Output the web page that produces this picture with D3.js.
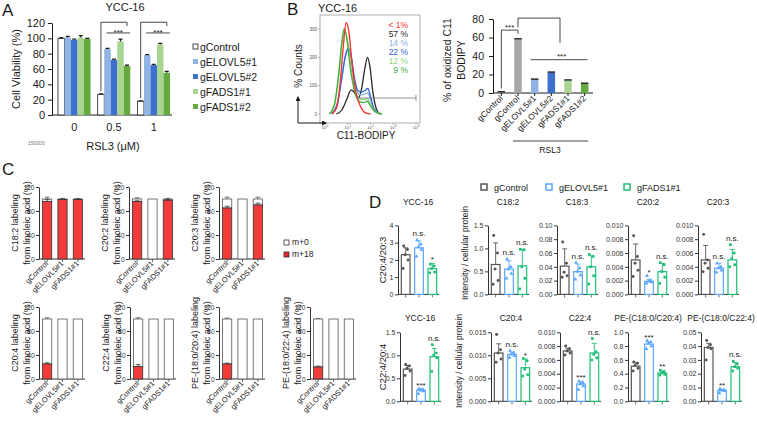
<!DOCTYPE html>
<html>
<head>
<meta charset="utf-8">
<script src="https://cdnjs.cloudflare.com/ajax/libs/d3/7.8.5/d3.min.js"></script>
<style>
  body { margin: 0; background: #fff; }
  svg { display: block; }
</style>
</head>
<body>
<div id="chart"></div>
<script>
// ---------- Panel A data ----------
const aDoses = ["0", "0.5", "1"];
const aGroups = ["gControl", "gELOVL5#1", "gELOVL5#2", "gFADS1#1", "gFADS1#2"];
const aColors = ["#ffffff", "#8fb4e3", "#3c6fce", "#a9d592", "#65a940"];
const aViability = [
  [100, 101, 98, 101, 99],
  [27, 86, 72, 96, 64],
  [18, 78, 65, 92, 55]
];
const aErr = [
  [1, 1.5, 1, 2.5, 1],
  [0.5, 0.8, 1, 3, 1],
  [0.5, 0.8, 1, 1.5, 2]
];
const aTicks = [0, 20, 40, 60, 80, 100, 120];

// ---------- Panel B data ----------
// histogram traces: [log10 fluorescence, % counts]
const histControl = [[0.3, 0], [0.5, 20], [0.65, 95], [0.8, 235], [0.93, 322], [1.05, 290], [1.2, 170], [1.35, 80], [1.5, 38], [1.65, 14], [1.8, 3], [2.0, 0]];
const histControlRSL3 = [[0.5, 0], [0.75, 15], [0.95, 50], [1.15, 85], [1.3, 75], [1.45, 55], [1.6, 85], [1.75, 160], [1.87, 200], [1.97, 170], [2.1, 80], [2.25, 20], [2.4, 0]];
const histELOVL5a = [[0.3, 0], [0.55, 35], [0.75, 130], [0.9, 210], [1.0, 225], [1.15, 190], [1.3, 115], [1.45, 72], [1.6, 68], [1.75, 70], [1.88, 74], [2.0, 50], [2.15, 15], [2.4, 0]];
const histELOVL5b = [[0.3, 0], [0.55, 40], [0.75, 135], [0.9, 205], [1.02, 232], [1.15, 205], [1.3, 125], [1.45, 82], [1.6, 78], [1.75, 82], [1.88, 90], [2.0, 62], [2.15, 20], [2.4, 0]];
const histFADS1a = [[0.2, 0], [0.4, 25], [0.6, 130], [0.75, 250], [0.87, 292], [1.0, 255], [1.15, 160], [1.3, 90], [1.5, 55], [1.7, 50], [1.85, 55], [2.0, 35], [2.2, 10], [2.5, 0]];
const histFADS1b = [[0.2, 0], [0.4, 30], [0.6, 140], [0.75, 262], [0.85, 302], [0.95, 272], [1.1, 170], [1.3, 80], [1.5, 45], [1.7, 40], [1.85, 45], [2.0, 28], [2.2, 8], [2.5, 0]];
const bPercents = ["< 1%", "57 %", "14 %", "22 %", "12 %", "9 %"];
const bHistColors = ["#ff2b2b", "#2a2a2a", "#8fb4e3", "#2f63d6", "#8fd67a", "#3fae3f"];
const bBarLabels = ["gControl", "gControl", "gELOVL5#1", "gELOVL5#2", "gFADS1#1", "gFADS1#2"];
const bBarValues = [1, 58, 14.5, 22, 13.5, 10];
const bBarErr = [0.3, 0.6, 0.5, 0.6, 0.6, 0.6];
const bBarColors = ["#a6a6a6", "#a6a6a6", "#8fb4e3", "#3c6fce", "#a9d592", "#65a940"];
const bTicks = [0, 20, 40, 60, 80];

// ---------- Panel C data ----------
const cGroups = ["gControl", "gELOVL5#1", "gFADS1#1"];
const cTitles = ["C18:2", "C20:2", "C20:3", "C20:4", "C22:4", "PE-(18:0/20:4)", "PE-(18:0/22:4)"];
const cM18 = [[96, 99, 99], [96, 0, 98], [85, 0, 90], [25, 0, 0], [21, 0, 0], [25, 0, 0], [20, 0, 0]];
const cM18Err = [[3, 1, 1], [1, 0, 1], [3, 0, 3], [2, 0, 0], [3, 0, 0], [1.5, 0, 0], [1.5, 0, 0]];
const cTotalErr = [[3, 1, 1], [2, 0, 1], [3, 0, 3], [2, 0, 0], [2, 0, 0], [1.5, 0, 0], [1, 0, 0]];
const cTicks = [0, 40, 80, 120];

// ---------- Panel D data ----------
const dGroups = ["gControl", "gELOVL5#1", "gFADS1#1"];
const dColors = ["#555555", "#5aa7ff", "#1fbf77"];
const dTitles = ["YCC-16", "C18:2", "C18:3", "C20:2", "C20:3", "YCC-16", "C20:4", "C22:4", "PE-(C18:0/C20:4)", "PE-(C18:0/C22:4)"];
const dMax = [4, 1.5, 0.10, 0.010, 0.010, 1.5, 0.015, 0.010, 1.0, 0.05];
const dStep = [1, 0.5, 0.02, 0.002, 0.002, 0.5, 0.005, 0.002, 0.2, 0.01];
const dFormat = ["d", ".1f", ".2f", ".3f", ".3f", ".1f", ".3f", ".3f", ".1f", ".2f"];
const dMeans = [
  [2.3, 2.7, 1.5], [0.65, 0.55, 0.62], [0.041, 0.033, 0.040], [0.0050, 0.0019, 0.0033], [0.0050, 0.0038, 0.0050],
  [0.70, 0.24, 0.97], [0.0105, 0.0102, 0.0073], [0.0073, 0.0025, 0.0070], [0.51, 0.83, 0.41], [0.039, 0.008, 0.025]
];
const dSD = [
  [0.4, 0.4, 0.3], [0.47, 0.18, 0.36], [0.025, 0.011, 0.016], [0.0023, 0.0003, 0.0012], [0.0021, 0.0007, 0.0015],
  [0.08, 0.03, 0.18], [0.002, 0.0005, 0.0019], [0.0004, 0.0004, 0.0014], [0.05, 0.03, 0.03], [0.003, 0.0006, 0.003]
];
const dPoints = [
  [[2.8, 2.6, 2.3, 2.0, 1.5], [3.15, 2.9, 2.75, 2.6, 2.2], [1.75, 1.65, 1.5, 1.3, 1.25]],
  [[1.28, 0.9, 0.55, 0.3, 0.22], [0.77, 0.6, 0.55, 0.45, 0.35], [0.98, 0.97, 0.6, 0.35, 0.12]],
  [[0.076, 0.045, 0.032, 0.027, 0.025], [0.046, 0.038, 0.033, 0.028, 0.022], [0.058, 0.055, 0.04, 0.027, 0.015]],
  [[0.0085, 0.0055, 0.0045, 0.0035, 0.0026], [0.0027, 0.002, 0.0019, 0.0018, 0.0016], [0.0046, 0.0043, 0.0033, 0.0025, 0.0016]],
  [[0.0087, 0.005, 0.0045, 0.0038, 0.0033], [0.0045, 0.004, 0.0038, 0.0035, 0.0032], [0.0072, 0.006, 0.0052, 0.0043, 0.004]],
  [[0.8, 0.77, 0.72, 0.66, 0.56], [0.27, 0.26, 0.24, 0.22, 0.16], [1.23, 1.05, 1.0, 0.95, 0.65]],
  [[0.0145, 0.0112, 0.0105, 0.0092, 0.0085], [0.011, 0.0106, 0.0102, 0.0099, 0.0095], [0.0093, 0.0088, 0.007, 0.0058, 0.0055]],
  [[0.008, 0.0076, 0.0073, 0.007, 0.0067], [0.0029, 0.0027, 0.0025, 0.0022, 0.0017], [0.0091, 0.0072, 0.0068, 0.0063, 0.006]],
  [[0.57, 0.55, 0.52, 0.48, 0.44], [0.88, 0.86, 0.84, 0.8, 0.76], [0.45, 0.43, 0.41, 0.39, 0.38]],
  [[0.044, 0.041, 0.039, 0.038, 0.03], [0.009, 0.0085, 0.008, 0.0075, 0.006], [0.029, 0.027, 0.025, 0.024, 0.022]]
];
const dMarks = [
  ["", "n.s.", "*"], ["", "n.s.", "n.s."], ["", "n.s.", "n.s."], ["", "*", "n.s."], ["", "n.s.", "n.s."],
  ["", "***", "n.s."], ["", "n.s.", "*"], ["", "***", "n.s."], ["", "***", "**"], ["", "**", "n.s."]
];

// ---------- drawing ----------
const FONT = '"Liberation Sans", Arial, sans-serif';
const INK = "#1a1a1a";
const svg = d3.select("#chart").append("svg")
  .attr("width", 757).attr("height", 433)
  .style("font-family", FONT);

function label(g, x, y, s, size, opts = {}) {
  const t = g.append("text")
    .attr("x", x).attr("y", y)
    .attr("font-size", size)
    .attr("text-anchor", opts.anchor || "start")
    .attr("fill", opts.fill || INK)
    .text(s);
  if (opts.rotate) t.attr("transform", `rotate(${opts.rotate},${x},${y})`);
  if (opts.dy) t.attr("dy", opts.dy);
  return t;
}

function styleAxis(g, size, color) {
  g.attr("font-family", null);
  g.selectAll("text").attr("font-size", size).attr("fill", color || INK);
  g.selectAll("line,path").attr("stroke", color || INK);
}

// panel letters
label(svg, 2, 16, "A", 17);
label(svg, 287, 15, "B", 17);
label(svg, 2, 175, "C", 17);
label(svg, 369, 208, "D", 17);

// ===== Panel A =====
const gA = svg.append("g");
const yA = d3.scaleLinear().domain([0, 120]).range([115, 23]);
const xA = d3.scaleBand().domain(aDoses).range([54, 174]).paddingInner(0.18).paddingOuter(0.1);
const xAi = d3.scaleBand().domain(aGroups).range([0, xA.bandwidth()]);

gA.append("g").attr("transform", "translate(52,0)")
  .call(d3.axisLeft(yA).tickValues(aTicks).tickSize(4).tickSizeOuter(0).tickPadding(3))
  .call(g => styleAxis(g, 11));
gA.append("line").attr("x1", 52).attr("x2", 172).attr("y1", 115).attr("y2", 115).attr("stroke", INK);

const aRows = aDoses.flatMap((dose, i) => aGroups.map((grp, j) => ({ dose, grp, j, v: aViability[i][j], e: aErr[i][j] })));
gA.selectAll("rect.bar").data(aRows).join("rect").attr("class", "bar")
  .attr("x", d => xA(d.dose) + xAi(d.grp))
  .attr("y", d => yA(d.v))
  .attr("width", xAi.bandwidth())
  .attr("height", d => yA(0) - yA(d.v))
  .attr("fill", d => aColors[d.j])
  .attr("stroke", d => d.j === 0 ? INK : "none")
  .attr("stroke-width", 0.8);
gA.selectAll("path.err").data(aRows).join("path").attr("class", "err")
  .attr("d", d => {
    const cx = xA(d.dose) + xAi(d.grp) + xAi.bandwidth() / 2;
    return `M${cx},${yA(d.v)}V${yA(d.v + d.e)}M${cx - 2},${yA(d.v + d.e)}H${cx + 2}`;
  })
  .attr("stroke", INK).attr("stroke-width", 1.2).attr("fill", "none");

[1, 2].forEach(i => {
  const dose = aDoses[i];
  const cx = j => xA(dose) + xAi(aGroups[j]) + xAi.bandwidth() / 2;
  gA.append("path")
    .attr("d", `M${cx(0)},${yA(aViability[i][0] + 4)}V${yA(121)}H${cx(4)}V${yA(116)}`)
    .attr("stroke", INK).attr("fill", "none").attr("stroke-width", 0.8);
  gA.append("line").attr("x1", cx(1) - 1).attr("x2", cx(4) + 3)
    .attr("y1", yA(107)).attr("y2", yA(107)).attr("stroke", INK).attr("stroke-width", 0.8);
  label(gA, (cx(1) + cx(4)) / 2 + 1, yA(107) + 2, "***", 8, { anchor: "middle" });
});

aDoses.forEach(d => label(gA, xA(d) + xA.bandwidth() / 2, 131, d, 11, { anchor: "middle" }));
label(gA, 113, 150, "RSL3 (\u03bcM)", 11, { anchor: "middle" });
label(gA, 28, 145, "150000", 5, { fill: "#777" });
label(gA, 125, 11, "YCC-16", 11, { anchor: "middle" });
label(gA, 16, 69, "Cell Viability (%)", 11, { anchor: "middle", rotate: -90, dy: "0.35em" });

aGroups.forEach((grp, j) => {
  const y = 47 + j * 15;
  gA.append("rect").attr("x", 193).attr("y", y - 3).attr("width", 5).attr("height", 5)
    .attr("fill", aColors[j]).attr("stroke", j === 0 ? INK : "none").attr("stroke-width", 0.8);
  label(gA, 200, y + 4, grp, 10.5);
});

// ===== Panel B: histogram =====
const gB = svg.append("g");
label(gB, 318, 12, "YCC-16", 11);
const xH = d3.scaleLinear().domain([0, 4]).range([325, 416]);
const yH = d3.scaleLinear().domain([0, 300]).range([114, 29]);
gB.append("rect").attr("x", 320).attr("y", 15).attr("width", 100).attr("height", 108)
  .attr("fill", "none").attr("stroke", "#9a9a9a").attr("stroke-width", 0.8);
[0, 100, 200, 300].forEach(v => {
  gB.append("line").attr("x1", 318).attr("x2", 320).attr("y1", yH(v)).attr("y2", yH(v)).attr("stroke", "#777").attr("stroke-width", 0.5);
  label(gB, 317, yH(v) + 1.5, v, 4.5, { anchor: "end", fill: "#555" });
});
d3.range(0, 5).forEach(k => {
  gB.append("line").attr("x1", xH(k)).attr("x2", xH(k)).attr("y1", 123).attr("y2", 125).attr("stroke", "#777").attr("stroke-width", 0.5);
  const t = label(gB, xH(k), 128.5, "10", 4.2, { anchor: "middle", fill: "#555" });
  t.append("tspan").attr("dy", -1.8).attr("font-size", 3.2).text(k);
});
const histLine = d3.line().x(d => xH(d[0])).y(d => yH(d[1])).curve(d3.curveMonotoneX);
const histOrder = [
  [histControlRSL3, 1], [histELOVL5a, 2], [histELOVL5b, 3], [histFADS1a, 4], [histFADS1b, 5], [histControl, 0]
];
histOrder.forEach(([pts, c]) => {
  gB.append("path").attr("d", histLine(pts)).attr("fill", "none")
    .attr("stroke", bHistColors[c]).attr("stroke-width", 1.3);
});
gB.append("path").attr("d", `M${xH(1.45)},96V100M${xH(1.45)},98H${xH(4)}M${xH(4)},95V101`)
  .attr("stroke", "#777").attr("fill", "none").attr("stroke-width", 0.8);
bPercents.forEach((p, i) => label(gB, 408, 28 + i * 9, p, 8.5, { anchor: "end", fill: bHistColors[i] }));

svg.append("defs").append("marker").attr("id", "arr")
  .attr("viewBox", "0 0 10 10").attr("refX", 8).attr("refY", 5)
  .attr("markerWidth", 5).attr("markerHeight", 5).attr("orient", "auto")
  .append("path").attr("d", "M0,0L10,5L0,10z").attr("fill", INK);
gB.append("path").attr("d", "M298,123V97").attr("stroke", INK).attr("stroke-width", 1).attr("marker-end", "url(#arr)");
gB.append("path").attr("d", "M298,123H326").attr("stroke", INK).attr("stroke-width", 1).attr("marker-end", "url(#arr)");
label(gB, 298, 66, "% Counts", 10, { anchor: "middle", rotate: -90, dy: "0.35em" });
label(gB, 366, 139, "C11-BODIPY", 10, { anchor: "middle" });

// ===== Panel B: bar chart =====
const yBb = d3.scaleLinear().domain([0, 80]).range([93, 19]);
const xBb = d3.scaleBand().domain(d3.range(6)).range([493, 593]).paddingInner(0.55).paddingOuter(0.275);
gB.append("g").attr("transform", "translate(493,0)")
  .call(d3.axisLeft(yBb).tickValues(bTicks).tickSize(4).tickSizeOuter(0).tickPadding(5))
  .call(g => styleAxis(g, 10.5));
gB.append("line").attr("x1", 493).attr("x2", 593).attr("y1", 93).attr("y2", 93).attr("stroke", INK);
const bRows = bBarValues.map((v, i) => ({ i, v, e: bBarErr[i] }));
gB.selectAll("rect.bbar").data(bRows).join("rect").attr("class", "bbar")
  .attr("x", d => xBb(d.i)).attr("width", xBb.bandwidth())
  .attr("y", d => yBb(d.v)).attr("height", d => yBb(0) - yBb(d.v))
  .attr("fill", d => bBarColors[d.i]);
gB.selectAll("path.berr").data(bRows).join("path").attr("class", "berr")
  .attr("d", d => `M${xBb(d.i)},${yBb(d.v + d.e)}H${xBb(d.i) + xBb.bandwidth()}`)
  .attr("stroke", INK).attr("stroke-width", 1.4);
bBarLabels.forEach((s, i) => {
  const cx = xBb(i) + xBb.bandwidth() / 2;
  gB.append("line").attr("x1", cx).attr("x2", cx).attr("y1", 93).attr("y2", 96).attr("stroke", INK);
  label(gB, cx + 2, 99, s, 8.5, { anchor: "end", rotate: -45 });
});
const bc = i => xBb(i) + xBb.bandwidth() / 2;
gB.append("path").attr("d", `M${bc(0)},${yBb(5)}V${yBb(68)}H${bc(1)}V${yBb(64)}`)
  .attr("stroke", INK).attr("fill", "none").attr("stroke-width", 0.8);
label(gB, (bc(0) + bc(1)) / 2, yBb(68) - 0.5, "***", 8, { anchor: "middle" });
gB.append("path").attr("d", `M${bc(1)},${yBb(71)}V${yBb(81)}H${bc(4) - 8}V${yBb(54)}`)
  .attr("stroke", INK).attr("fill", "none").attr("stroke-width", 0.8);
gB.append("line").attr("x1", bc(2) - 4).attr("x2", bc(5) + 3).attr("y1", yBb(36)).attr("y2", yBb(36))
  .attr("stroke", INK).attr("stroke-width", 0.8);
label(gB, (bc(2) + bc(5)) / 2 + 2, yBb(36) - 1, "***", 8, { anchor: "middle" });
gB.append("line").attr("x1", 513).attr("x2", 588).attr("y1", 141).attr("y2", 141).attr("stroke", INK).attr("stroke-width", 0.8);
label(gB, 550, 153, "RSL3", 8.5, { anchor: "middle" });
label(gB, 447, 60, "% of oxidized C11", 10.5, { anchor: "middle", rotate: -90, dy: "0.35em" });
label(gB, 461, 60, "BODIPY", 10.5, { anchor: "middle", rotate: -90, dy: "0.35em" });

// ===== Panel C =====
const gC = svg.append("g");
const cAxisX = [39, 129, 219, 39, 130, 219, 310];
const cZeroY = [259, 259, 259, 379, 379, 379, 379];
cTitles.forEach((title, p) => {
  const ax = cAxisX[p], zy = cZeroY[p];
  const g = gC.append("g");
  const y = d3.scaleLinear().domain([0, 120]).range([zy, zy - 72]);
  const x = d3.scaleBand().domain(cGroups).range([ax + 2, ax + 45]).paddingInner(0.4).paddingOuter(0.1);
  g.append("g").attr("transform", `translate(${ax},0)`)
    .call(d3.axisLeft(y).tickValues(cTicks).tickSize(3).tickSizeOuter(0).tickPadding(1.5))
    .call(a => styleAxis(a, 6.5, "#333"));
  g.append("line").attr("x1", ax).attr("x2", ax + 46).attr("y1", zy).attr("y2", zy).attr("stroke", "#333");
  cGroups.forEach((grp, j) => {
    const m18 = cM18[p][j];
    const bx = x(grp), bw = x.bandwidth(), cx = bx + bw / 2;
    g.append("line").attr("x1", cx).attr("x2", cx).attr("y1", zy).attr("y2", zy + 3).attr("stroke", "#333").attr("stroke-width", 0.7);
    g.append("rect").attr("x", bx).attr("width", bw).attr("y", y(100)).attr("height", y(m18) - y(100))
      .attr("fill", "#fff").attr("stroke", "#555").attr("stroke-width", 0.8);
    if (m18 > 0) {
      g.append("rect").attr("x", bx).attr("width", bw).attr("y", y(m18)).attr("height", y(0) - y(m18))
        .attr("fill", "#f23c3c").attr("stroke", "#333").attr("stroke-width", 0.8);
      const e = cM18Err[p][j];
      g.append("path").attr("d", `M${cx},${y(m18)}V${y(m18 + e)}M${cx - 2.5},${y(m18 + e)}H${cx + 2.5}`)
        .attr("stroke", "#333").attr("stroke-width", 0.8);
    }
    const te = cTotalErr[p][j];
    if (te > 0) {
      g.append("path").attr("d", `M${cx},${y(100)}V${y(100 + te)}M${cx - 2.5},${y(100 + te)}H${cx + 2.5}`)
        .attr("stroke", "#555").attr("stroke-width", 0.8);
    }
    label(g, cx + 1.5, zy + 5, grp, 7.5, { anchor: "end", rotate: -45 });
  });
  label(g, ax - 24, zy - 36, title + " labeling", 9, { anchor: "middle", rotate: -90, dy: "0.35em" });
  label(g, ax - 12, zy - 36, "from linoleic acid (%)", 9, { anchor: "middle", rotate: -90, dy: "0.35em" });
});
gC.append("rect").attr("x", 284).attr("y", 240).attr("width", 5).attr("height", 5)
  .attr("fill", "#fff").attr("stroke", "#333").attr("stroke-width", 0.8);
label(gC, 292, 245, "m+0", 8.5);
gC.append("rect").attr("x", 284).attr("y", 252).attr("width", 5).attr("height", 5)
  .attr("fill", "#e8202a").attr("stroke", "#333").attr("stroke-width", 0.8);
label(gC, 292, 257, "m+18", 8.5);

// ===== Panel D =====
const gD = svg.append("g");
const legendX = [481, 546, 624];
dGroups.forEach((grp, j) => {
  gD.append("rect").attr("x", legendX[j]).attr("y", 184).attr("width", 6).attr("height", 6)
    .attr("fill", "#fff").attr("stroke", dColors[j]).attr("stroke-width", 1.5);
  label(gD, legendX[j] + 13, 191, grp, 9);
});
const dAxisX = [398, 488, 557, 628, 698, 400, 491, 560, 628, 701];
const dZeroY = [294.4, 294.4, 294.4, 294.4, 294.4, 401.3, 401.3, 401.3, 401.3, 401.3];
const dSymbols = [d3.symbolCircle, d3.symbolTriangle, d3.symbolSquare];
const jitter = [-2, 1.8, -0.6, 2.4, -2.6];
dTitles.forEach((title, p) => {
  const ax = dAxisX[p], zy = dZeroY[p];
  const g = gD.append("g");
  const y = d3.scaleLinear().domain([0, dMax[p]]).range([zy, zy - 69]);
  const x = d3.scaleBand().domain(dGroups).range([ax + 2, ax + 40]).paddingInner(0.35).paddingOuter(0.1);
  const ticks = d3.range(0, dMax[p] + dStep[p] / 2, dStep[p]);
  g.append("g").attr("transform", `translate(${ax},0)`)
    .call(d3.axisLeft(y).tickValues(ticks).tickFormat(d3.format(dFormat[p])).tickSize(3).tickSizeOuter(0).tickPadding(1.5))
    .call(a => styleAxis(a, 7, "#333"));
  g.append("line").attr("x1", ax).attr("x2", ax + 41).attr("y1", zy).attr("y2", zy).attr("stroke", "#333");
  dGroups.forEach((grp, j) => {
    const bx = x(grp), bw = x.bandwidth(), cx = bx + bw / 2;
    const m = dMeans[p][j], sd = dSD[p][j];
    g.append("line").attr("x1", cx).attr("x2", cx).attr("y1", zy).attr("y2", zy + 3).attr("stroke", "#333").attr("stroke-width", 0.7);
    g.append("rect").attr("x", bx).attr("width", bw).attr("y", y(m)).attr("height", zy - y(m))
      .attr("fill", "#fff").attr("stroke", dColors[j]).attr("stroke-width", 1.2);
    g.append("path").attr("d", `M${cx},${y(m)}V${y(m + sd)}M${cx - 2.5},${y(m + sd)}H${cx + 2.5}`)
      .attr("stroke", dColors[j]).attr("stroke-width", 0.9);
    g.selectAll(null).data(dPoints[p][j]).join("path")
      .attr("transform", (v, k) => `translate(${cx + jitter[k]},${y(v)})`)
      .attr("d", d3.symbol(dSymbols[j], 7))
      .attr("fill", dColors[j]);
    const mark = dMarks[p][j];
    if (mark) {
      const top = Math.max(m + sd, d3.max(dPoints[p][j]));
      label(g, cx, y(top) - 4 + (mark.startsWith("*") ? 3 : 0), mark, 8, { anchor: "middle" });
    }
  });
  label(g, ax + 20, p < 5 ? 205 : 321, title, 8.5, { anchor: "middle" });
});
label(gD, 383, 260, "C20:4/20:3", 9.5, { anchor: "middle", rotate: -90, dy: "0.35em" });
label(gD, 383, 367, "C22:4/20:4", 9.5, { anchor: "middle", rotate: -90, dy: "0.35em" });
label(gD, 465, 253, "Intensity / cellular protein", 8.5, { anchor: "middle", rotate: -90, dy: "0.35em" });
label(gD, 459, 361, "Intensity / cellular protein", 8.5, { anchor: "middle", rotate: -90, dy: "0.35em" });
</script>
</body>
</html>
